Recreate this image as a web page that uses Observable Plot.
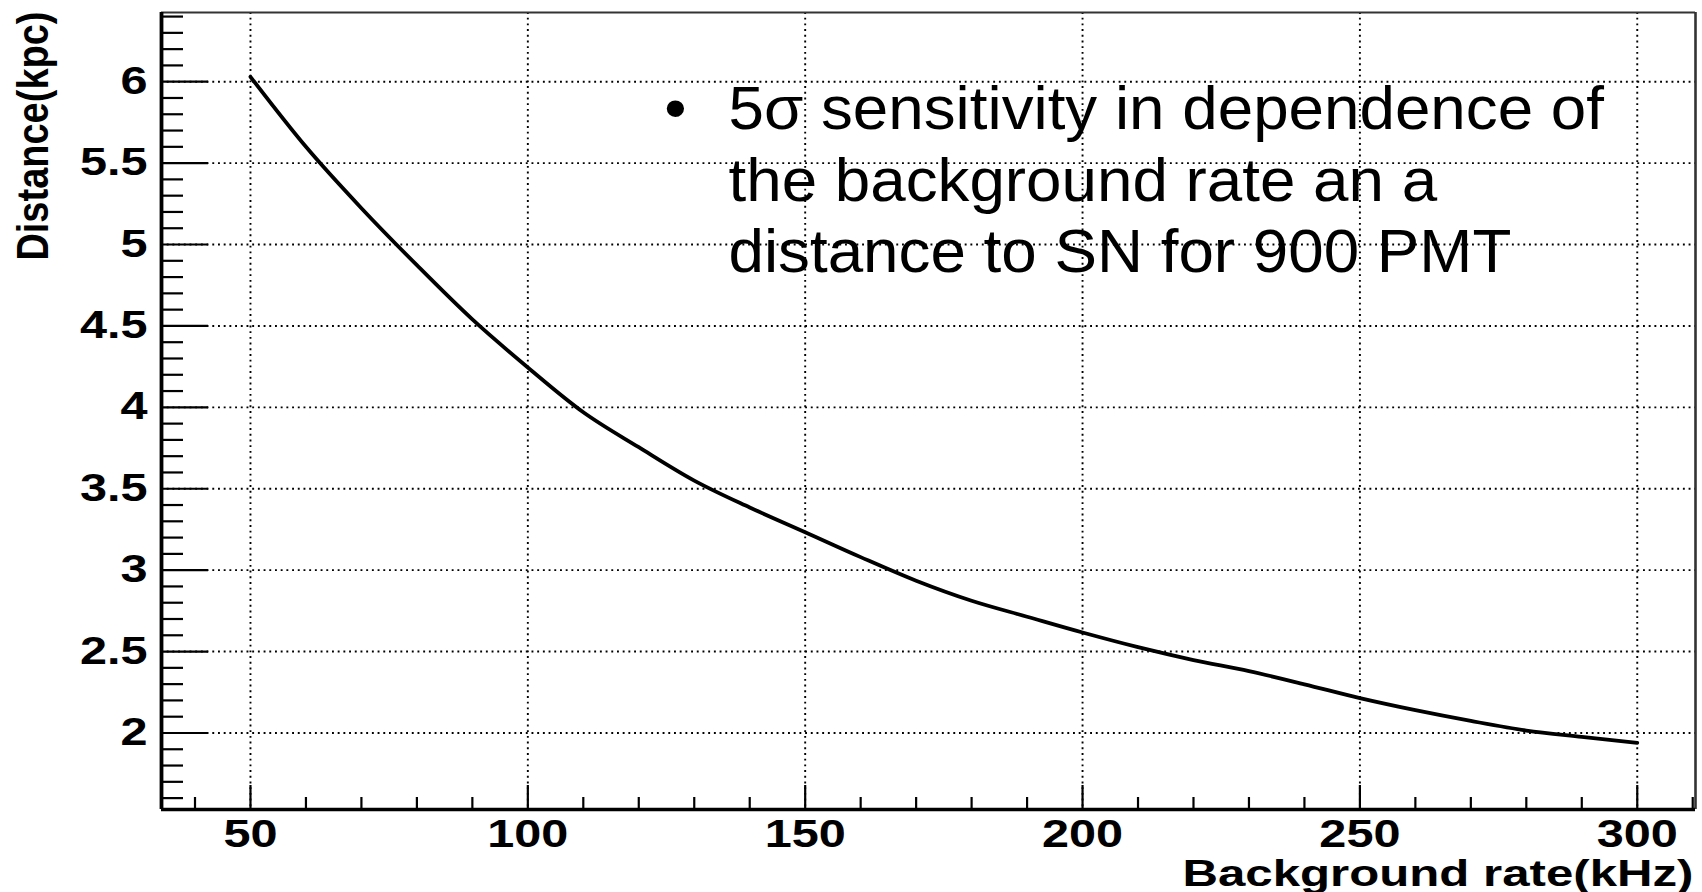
<!DOCTYPE html>
<html>
<head>
<meta charset="utf-8">
<script src="https://cdn.jsdelivr.net/npm/d3@7"></script>
<script src="https://cdn.jsdelivr.net/npm/@observablehq/plot@0.6"></script>
<style>
html, body { margin: 0; padding: 0; background: #fff; }
#chart { width: 1702px; height: 892px; overflow: hidden; }
</style>
</head>
<body>
<div id="chart"></div>
<script>
// ---- data ----
const rate = [50, 60, 70, 80, 90, 100, 110, 120, 130, 140, 150, 160, 170, 180, 190, 200, 210, 220, 230, 240, 250, 260, 270, 280, 290, 300];
const distance = [6.03, 5.60, 5.223, 4.873, 4.54, 4.245, 3.97, 3.755, 3.55, 3.385, 3.233, 3.08, 2.935, 2.812, 2.714, 2.617, 2.527, 2.448, 2.38, 2.299, 2.214, 2.14, 2.074, 2.015, 1.976, 1.939];

const xMajor = [50, 100, 150, 200, 250, 300];
const xMinor = [40, 60, 70, 80, 90, 110, 120, 130, 140, 160, 170, 180, 190, 210, 220, 230, 240, 260, 270, 280, 290, 310];
const yMajor = [2, 2.5, 3, 3.5, 4, 4.5, 5, 5.5, 6];
const yMinor = [1.6, 1.7, 1.8, 1.9, 2.1, 2.2, 2.3, 2.4, 2.6, 2.7, 2.8, 2.9, 3.1, 3.2, 3.3, 3.4, 3.6, 3.7, 3.8, 3.9,
                4.1, 4.2, 4.3, 4.4, 4.6, 4.7, 4.8, 4.9, 5.1, 5.2, 5.3, 5.4, 5.6, 5.7, 5.8, 5.9, 6.1, 6.2, 6.3, 6.4];
const xDomain = [33.96, 310.5];
const yDomain = [1.530, 6.425];

const xTitle = "Background rate(kHz)";
const yTitle = "Distance(kpc)";
const noteBullet = "•";
const noteLines = ["5σ sensitivity in dependence of", "the background rate an a", "distance to SN for 900 PMT"];

// ---- layout ----
const W = 1702, H = 892, mL = 161, mR = 7, mT = 12, mB = 83;
const innerW = W - mL - mR, innerH = H - mT - mB;
const font = "'Liberation Sans', Arial, Helvetica, sans-serif";
const tickFont = 38, tickStretch = 1.28;

const points = rate.map((r, i) => ({rate: r, distance: distance[i]}));
const dotted = {stroke: "#000", strokeWidth: 1.9, strokeDasharray: "1.9 3.8"};

const chart = Plot.plot({
  width: W, height: H,
  marginLeft: mL, marginRight: mR, marginTop: mT, marginBottom: mB,
  x: {domain: xDomain, axis: null},
  y: {domain: yDomain, axis: null},
  style: {fontFamily: font, background: "#fff", color: "#000"},
  marks: [
    // grid
    Plot.ruleX(xMajor, {...dotted}),
    Plot.ruleY(yMajor, {...dotted}),
    // inner ticks
    Plot.ruleY(yMinor, {insetRight: innerW - 22, stroke: "#000", strokeWidth: 2.2}),
    Plot.ruleY(yMajor, {insetRight: innerW - 47, stroke: "#000", strokeWidth: 2.2}),
    Plot.ruleX(xMinor, {insetTop: innerH - 12, stroke: "#000", strokeWidth: 2.2}),
    Plot.ruleX(xMajor, {insetTop: innerH - 24, stroke: "#000", strokeWidth: 2.2}),
    // frame
    Plot.ruleY([yDomain[1]], {stroke: "#333", strokeWidth: 2}),
    Plot.ruleX([xDomain[1]], {stroke: "#333", strokeWidth: 2.6}),
    Plot.ruleY([yDomain[0]], {stroke: "#000", strokeWidth: 3.4}),
    Plot.ruleX([xDomain[0]], {stroke: "#000", strokeWidth: 3.8}),
    // curve
    Plot.line(points, {x: "rate", y: "distance", stroke: "#000", strokeWidth: 3.8, curve: "monotone-x"}),
    // axes labels
    Plot.axisX(xMajor, {anchor: "bottom", tickSize: 0, tickPadding: 11, fontSize: tickFont, fontWeight: "bold", fontFamily: font, label: null, tickFormat: d => String(d)}),
    Plot.axisY(yMajor, {anchor: "left", tickSize: 0, tickPadding: 14, fontSize: tickFont, fontWeight: "bold", fontFamily: font, label: null, tickFormat: d => String(d)}),
    // titles
    Plot.text([xTitle], {frameAnchor: "bottom-right", dx: -2, dy: 76, textAnchor: "end", lineAnchor: "bottom", fontSize: 37, fontWeight: "bold", fontFamily: font, fill: "#000"}),
    Plot.text([yTitle], {frameAnchor: "top-left", dx: -114, dy: -1, rotate: -90, textAnchor: "end", lineAnchor: "bottom", fontSize: 38, fontWeight: "bold", fontFamily: font, fill: "#000"}),
    // annotation
    Plot.text([noteBullet], {frameAnchor: "top-left", dx: 675 - mL, dy: 128 - mT, textAnchor: "middle", lineAnchor: "bottom", fontSize: 61, fontFamily: font, fill: "#000"}),
    Plot.text([noteLines.join("\n")], {frameAnchor: "top-left", dx: 728 - mL, dy: 78 - mT, textAnchor: "start", lineAnchor: "top", lineHeight: 71.5 / 61, fontSize: 61, fontFamily: font, fill: "#000"})
  ]
});

document.getElementById("chart").appendChild(chart);

// horizontal stretch of the ROOT-style labels (scale about each text's own anchor)
function stretch(selection, sx, sy) {
  selection.each(function () {
    const tr = this.getAttribute("transform") || "";
    this.setAttribute("transform", `${tr} scale(${sx},${sy})`);
  });
}
const svg = d3.select(chart);
const texts = svg.selectAll("text");
stretch(svg.selectAll('g[aria-label="x-axis tick label"] text'), tickStretch, 1);
stretch(svg.selectAll('g[aria-label="y-axis tick label"] text'), tickStretch, 1);
stretch(texts.filter(function () { return this.textContent === xTitle; }), 1.33, 1);
stretch(texts.filter(function () { return this.textContent === yTitle; }), 1, 1.15);
stretch(texts.filter(function () { return this.textContent === noteBullet || this.textContent.startsWith(noteLines[0]); }), 1.045, 1);
</script>
</body>
</html>
